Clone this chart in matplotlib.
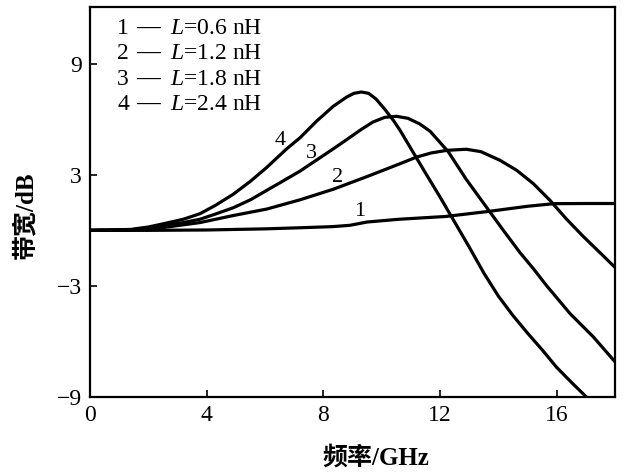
import matplotlib
matplotlib.use("Agg")
import matplotlib.pyplot as plt

plt.rcParams['font.family'] = ['Liberation Serif', 'Noto Sans CJK SC']
plt.rcParams['mathtext.fontset'] = 'custom'
plt.rcParams['mathtext.rm'] = 'Liberation Serif'
plt.rcParams['mathtext.it'] = 'Liberation Serif:italic'

# 读图得到的数据 (频率 GHz, 带宽 dB)
x1 = [0, 2, 4, 6, 7.2, 8.3, 8.9, 9.5, 10.6, 12.2, 13.7, 15.0, 15.9, 17, 18]
y1 = [0, 0, 0.02, 0.08, 0.14, 0.2, 0.27, 0.45, 0.6, 0.75, 1.03, 1.3, 1.44, 1.45, 1.45]

x2 = [0, 1.4, 2.5, 3.77, 4.91, 6.06, 7.2, 8.34, 9.49, 10.63, 11.2, 11.7, 12.23, 12.9, 13.4, 14.06,
      14.63, 15.2, 15.77, 16.34, 16.91, 17.48, 18]
y2 = [0, 0.02, 0.15, 0.42, 0.8, 1.15, 1.65, 2.22, 2.9, 3.6, 3.96, 4.18, 4.32, 4.38, 4.25, 3.78,
      3.24, 2.52, 1.62, 0.6, -0.33, -1.2, -2.0]

x3 = [0, 1.4, 2.5, 3.2, 3.77, 4.3, 4.91, 5.5, 6.06, 6.6, 7.2, 7.77, 8.34, 8.8, 9.3, 9.7, 10.1, 10.5,
      10.9, 11.3, 11.66, 12.28, 12.9, 13.5, 14.17, 14.74, 15.2, 15.66, 16.46, 17.26, 18]
y3 = [0, 0.03, 0.25, 0.42, 0.6, 0.88, 1.22, 1.65, 2.16, 2.65, 3.2, 3.8, 4.4, 4.9, 5.45, 5.85, 6.1, 6.16,
      6.05, 5.75, 5.35, 4.25, 2.75, 1.45, 0, -1.2, -2.07, -3.0, -4.5, -5.76, -7.1]

x4 = [0, 1.4, 2.0, 2.5, 3.2, 3.77, 4.3, 4.91, 5.5, 6.06, 6.74, 7.2, 7.77, 8.34, 8.8, 9.05, 9.3, 9.55,
      9.8, 10.1, 10.4, 10.63, 11.0, 11.5, 12.0, 12.5, 13.0, 13.5, 14.0, 14.5, 15.0, 15.5, 16.0, 16.5, 17.05]
y4 = [0, 0.05, 0.18, 0.35, 0.6, 0.9, 1.35, 1.95, 2.65, 3.4, 4.4, 5.0, 5.9, 6.7, 7.2, 7.4, 7.47, 7.4,
      7.1, 6.55, 5.94, 5.4, 4.42, 3.1, 1.8, 0.45, -0.9, -2.3, -3.55, -4.6, -5.55, -6.45, -7.4, -8.2, -9.05]

series = [(x1, y1), (x2, y2), (x3, y3), (x4, y4)]
legend_nums = ['1', '2', '3', '4']
legend_labels = ['$L$=0.6 nH', '$L$=1.2 nH', '$L$=1.8 nH', '$L$=2.4 nH']
# 曲线编号标注位置
curve_tags = [('1', 9.26, 1.03), ('2', 8.47, 2.86), ('3', 7.58, 4.16), ('4', 6.51, 4.86)]

fig = plt.figure(figsize=(6.26, 4.74), dpi=100)
ax = fig.add_axes([0.1438, 0.1624, 0.8387, 0.8228])

for xs, ys in series:
    ax.plot(xs, ys, color='black', lw=2.3, solid_capstyle='round', solid_joinstyle='round')

for txt, tx, ty in curve_tags:
    ax.text(tx, ty, txt, fontsize=16, ha='center', va='center')

# 图例: 编号 — L=...
for i, (num, lab) in enumerate(zip(legend_nums, legend_labels)):
    yy = 0.946 - i * 0.0654
    ax.text(0.052, yy, num, transform=ax.transAxes, fontsize=17, ha='left', va='center')
    ax.text(0.111, yy, '—', transform=ax.transAxes, fontsize=17, fontweight='bold',
            ha='center', va='center')
    ax.text(0.152, yy, lab, transform=ax.transAxes, fontsize=17, ha='left', va='center')

ax.set_xlim(0, 18)
ax.set_ylim(-9, 12.06)
ax.set_xticks([0, 4, 8, 12, 16])
ax.set_yticks([-9, -3, 3, 9])
ax.tick_params(direction='in', length=5, width=1.2, labelsize=17)
ax.tick_params(axis='x', pad=6)
ax.tick_params(axis='y', pad=6)
for s in ax.spines.values():
    s.set_linewidth(1.6)

ax.set_xlabel('频率/GHz', fontsize=18, fontweight='bold')
ax.set_ylabel('带宽/dB', fontsize=18, fontweight='bold')
ax.xaxis.set_label_coords((376 - 90) / 525, -0.125)
ax.yaxis.set_label_coords(-0.101, 0.467)

fig.savefig('out.png', dpi=100)
